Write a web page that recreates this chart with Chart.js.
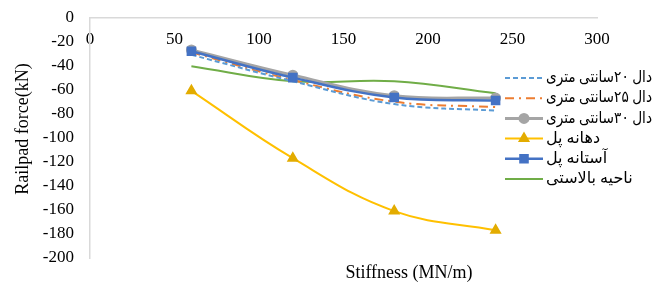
<!DOCTYPE html>
<html>
<head>
<meta charset="utf-8">
<script src="https://cdn.jsdelivr.net/npm/chart.js@4"></script>
<style>
  html, body { margin: 0; padding: 0; background: #fff; }
  #wrap { width: 654px; height: 286px; }
</style>
</head>
<body>
<div id="wrap"><canvas id="chart" width="654" height="286"></canvas></div>
<script>
const stiffness = [60, 120, 180, 240];
const slab20 = [-31, -53, -72, -77.5];
const slab25 = [-29, -52, -70, -74.5];
const slab30 = [-27, -48, -65, -67];
const bridgeOpening = [-61, -117, -161, -177];
const bridgeAbutment = [-28, -50, -66.5, -69];
const ballastZone = [-40.5, -53, -53, -63];
const xTicks = [0, 50, 100, 150, 200, 250, 300];
const yTicks = [0, -20, -40, -60, -80, -100, -120, -140, -160, -180, -200];

const serif = "'Liberation Serif', 'Times New Roman', 'DejaVu Sans', serif";

function pts(values) {
    return stiffness.map((x, i) => ({ x: x, y: values[i] }));
}

const datasets = [
    { label: 'دال ۲۰سانتی متری', data: pts(slab20), borderColor: '#5B9BD5', borderWidth: 2,
      borderDash: [5, 3], pointRadius: 0, pointStyle: false },
    { label: 'دال ۲۵سانتی متری', data: pts(slab25), borderColor: '#ED7D31', borderWidth: 2,
      borderDash: [9, 5, 2, 5], pointRadius: 0, pointStyle: false },
    { label: 'دال ۳۰سانتی متری', data: pts(slab30), borderColor: '#A5A5A5', borderWidth: 3,
      pointStyle: 'circle', pointRadius: 4, backgroundColor: '#A5A5A5' },
    { label: 'دهانه پل', data: pts(bridgeOpening), borderColor: '#FFC000', borderWidth: 2,
      pointStyle: 'triangle', pointRadius: 5, backgroundColor: '#E3AC00', pointBorderColor: '#E3AC00' },
    { label: 'آستانه پل', data: pts(bridgeAbutment), borderColor: '#4472C4', borderWidth: 2.5,
      pointStyle: 'rect', pointRadius: 5, backgroundColor: '#4472C4' },
    { label: 'ناحیه بالاستی', data: pts(ballastZone), borderColor: '#70AD47', borderWidth: 2,
      pointRadius: 0, pointStyle: false }
];
datasets.forEach(d => { d.tension = 0.4; d.fill = false; d.order = 0; });
// draw blue above gray, like the reference
datasets[4].order = -1;

// legend drawn with a line sample and marker on the left of the Persian text,
// plus the two axis titles (placed like the reference, not centred on the plot)
const lineLegend = {
    id: 'lineLegend',
    afterDraw(chart) {
        const ctx = chart.ctx;
        const x0 = 505, x1 = 543;
        chart.data.datasets.forEach((ds, i) => {
            const y = 78 + i * 20.2;
            ctx.save();
            ctx.strokeStyle = ds.borderColor;
            ctx.lineWidth = ds.borderWidth;
            ctx.setLineDash(ds.borderDash || []);
            ctx.beginPath();
            ctx.moveTo(x0, y);
            ctx.lineTo(x1, y);
            ctx.stroke();
            ctx.setLineDash([]);
            if (ds.pointStyle) {
                ctx.fillStyle = ds.pointBorderColor || ds.backgroundColor;
                ctx.strokeStyle = ds.pointBorderColor || ds.backgroundColor;
                Chart.helpers.drawPoint(ctx, {
                    pointStyle: ds.pointStyle,
                    radius: ds.pointRadius,
                    rotation: 0,
                    borderWidth: 1
                }, (x0 + x1) / 2, y);
            }
            ctx.fillStyle = '#000';
            ctx.font = '16px ' + serif;
            ctx.direction = 'rtl';
            ctx.textAlign = 'left';
            ctx.textBaseline = 'middle';
            const w = ctx.measureText(ds.label).width;
            const sx = Math.min(1, 106 / w);
            ctx.translate(546, y);
            ctx.scale(sx, 1);
            ctx.fillText(ds.label, 0, 0);
            ctx.restore();
        });
        ctx.save();
        ctx.fillStyle = '#000';
        ctx.font = '18px ' + serif;
        ctx.textAlign = 'center';
        ctx.textBaseline = 'middle';
        ctx.fillText('Stiffness (MN/m)', 409, 273);
        ctx.translate(23, 129);
        ctx.rotate(-Math.PI / 2);
        ctx.fillText('Railpad force(kN)', 0, 0);
        ctx.restore();
    }
};

new Chart(document.getElementById('chart'), {
    type: 'line',
    data: { datasets: datasets },
    options: {
        responsive: false,
        animation: false,
        layout: { padding: { left: 5, right: 57, top: 17.5, bottom: 28 } },
        plugins: {
            legend: { display: false },
            tooltip: { enabled: false }
        },
        scales: {
            x: {
                type: 'linear',
                position: { y: 0 },
                min: 0,
                max: 300,
                afterBuildTicks: (axis) => { axis.ticks = xTicks.map(v => ({ value: v })); },
                grid: { display: true, drawOnChartArea: false, drawTicks: true, tickLength: 12, tickColor: 'rgba(0,0,0,0)' },
                border: { display: true, color: '#D9D9D9', width: 1.5 },
                ticks: { padding: 0, color: '#000', font: { family: serif, size: 17 }, maxRotation: 0 }
            },
            y: {
                type: 'linear',
                min: -200,
                max: 0,
                afterBuildTicks: (axis) => { axis.ticks = yTicks.map(v => ({ value: v })); },
                afterFit: (axis) => { axis.width = 85; },
                grid: { display: true, drawOnChartArea: false, drawTicks: true, tickLength: 16, tickColor: 'rgba(0,0,0,0)' },
                border: { display: true, color: '#D9D9D9', width: 1.5 },
                ticks: { padding: 0, color: '#000', font: { family: serif, size: 17 } }
            }
        }
    },
    plugins: [lineLegend]
});
</script>
</body>
</html>
